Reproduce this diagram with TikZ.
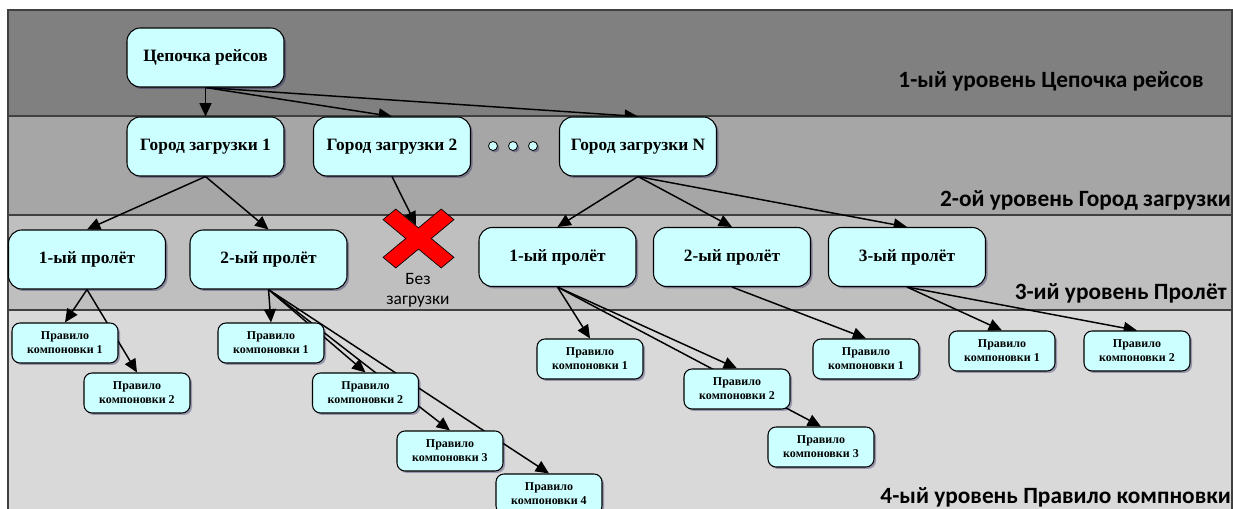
\documentclass[tikz,border=0pt]{standalone}
\usepackage{fontspec}
\setmainfont{Liberation Serif}
\newfontfamily\bandfont{Carlito}
\usetikzlibrary{arrows.meta,shadows}
\definecolor{boxcyan}{HTML}{CCFFFF}
\definecolor{bandA}{HTML}{808080}
\definecolor{bandB}{HTML}{A6A6A6}
\definecolor{bandC}{HTML}{BFBFBF}
\definecolor{bandD}{HTML}{D9D9D9}
\pgfdeclarelayer{bands}
\pgfdeclarelayer{edges}
\pgfsetlayers{bands,edges,main}

\begin{document}
\begin{tikzpicture}[
    x=0.75pt, y=-0.75pt,
    boxnode/.style={draw, line width=0.8pt, fill=boxcyan, align=center,
      drop shadow={shadow xshift=1.5pt, shadow yshift=-1.5pt, fill=black!70!blue, opacity=0.3}},
    bigbox/.style={boxnode, rounded corners=10pt, minimum width=117.75pt, minimum height=44.25pt,
      font=\bfseries\fontsize{13}{15}\selectfont},
    rulebox/.style={boxnode, rounded corners=6pt, minimum width=79.5pt, minimum height=30pt,
      inner sep=1pt, font=\bfseries\fontsize{9}{10.5}\selectfont},
    dotnode/.style={boxnode, circle, minimum size=6.75pt, inner sep=0pt, line width=0.6pt},
    link/.style={-{Triangle[length=10pt,width=9pt]}, line width=1.1pt},
    banner/.style={anchor=base east, inner sep=0pt, font=\bandfont\bfseries\fontsize{17.5}{20}\selectfont},
    band/.style={draw=black!75, line width=0.8pt}
  ]
  \useasboundingbox (0,0) rectangle (1233,509);

  \begin{pgfonlayer}{bands}
    \draw[band, fill=bandA] (8,10) rectangle (1232,116);
    \draw[band, fill=bandB] (8,116) rectangle (1232,215);
    \draw[band, fill=bandC] (8,215) rectangle (1232,310);
    \draw[band, fill=bandD] (8,310) rectangle (1232,515);
    \draw[fill=red, line width=0.5pt, shift={(418.5,238.5)}, x=26.6pt, y=-22.1pt]
      (-1,0.64) -- (-0.64,1) -- (0,0.36) -- (0.64,1) -- (1,0.64) -- (0.36,0)
      -- (1,-0.64) -- (0.64,-1) -- (0,-0.36) -- (-0.64,-1) -- (-1,-0.64) -- (-0.36,0) -- cycle;
  \end{pgfonlayer}

  \node[bigbox] (chain) at (205.5,57.5) {Цепочка рейсов};
  \node[bigbox] (city1) at (205.5,146.5) {Город загрузки 1};
  \node[bigbox] (city2) at (392,146.5) {Город загрузки 2};
  \node[bigbox] (cityN) at (638,146.5) {Город загрузки N};
  \node[dotnode] (dot1) at (493,146) {};
  \node[dotnode] (dot2) at (513,146) {};
  \node[dotnode] (dot3) at (533,146) {};

  \node[bigbox] (span11) at (87,259.5) {1-ый пролёт};
  \node[bigbox] (span12) at (268.5,259.5) {2-ый пролёт};
  \node[bigbox] (spanN1) at (557.5,257) {1-ый пролёт};
  \node[bigbox] (spanN2) at (732,257) {2-ый пролёт};
  \node[bigbox] (spanN3) at (907,257) {3-ый пролёт};
  \coordinate (nocargo) at (416,225);
  \node[font=\bandfont\fontsize{13}{15.5}\selectfont, align=center] (nocargotext) at (418,290.5) {Без\\загрузки};

  \node[rulebox] (rule111) at (65,343) {Правило\\компоновки 1};
  \node[rulebox] (rule112) at (137,393) {Правило\\компоновки 2};
  \node[rulebox] (rule121) at (271,343) {Правило\\компоновки 1};
  \node[rulebox] (rule122) at (365.5,393) {Правило\\компоновки 2};
  \node[rulebox] (rule123) at (450,451) {Правило\\компоновки 3};
  \node[rulebox] (rule124) at (549,494) {Правило\\компоновки 4};
  \node[rulebox] (ruleN11) at (590,359) {Правило\\компоновки 1};
  \node[rulebox] (ruleN12) at (737,389) {Правило\\компоновки 2};
  \node[rulebox] (ruleN13) at (821,447) {Правило\\компоновки 3};
  \node[rulebox] (ruleN21) at (866,359) {Правило\\компоновки 1};
  \node[rulebox] (ruleN31) at (1002,351) {Правило\\компоновки 1};
  \node[rulebox] (ruleN32) at (1137,351) {Правило\\компоновки 2};

  \begin{pgfonlayer}{edges}
    \draw[link] (chain.south) -- (city1.north);
    \draw[link] (chain.south) -- (city2.north);
    \draw[link] (chain.south) -- (cityN.north);
    \draw[link] (city1.south) -- (span11.north);
    \draw[link] (city1.south) -- (span12.north);
    \draw[link] (city2.south) -- (nocargo);
    \draw[link] (cityN.south) -- (spanN1.north);
    \draw[link] (cityN.south) -- (spanN2.north);
    \draw[link] (cityN.south) -- (spanN3.north);
    \draw[link] (span11.south) -- (rule111.north);
    \draw[link] (span11.south) -- (rule112.north);
    \draw[link] (span12.south) -- (rule121.north);
    \draw[link] (span12.south) -- (rule122.north);
    \draw[link] (span12.south) -- (rule123.north);
    \draw[link] (span12.south) -- (rule124.north);
    \draw[link] (spanN1.south) -- (ruleN11.north);
    \draw[link] (spanN1.south) -- (ruleN12.north);
    \draw[link] (spanN1.south) -- (ruleN13.north);
    \draw[link] (spanN2.south) -- (ruleN21.north);
    \draw[link] (spanN3.south) -- (ruleN31.north);
    \draw[link] (spanN3.south) -- (ruleN32.north);
  \end{pgfonlayer}

  \node[banner] (level1) at (1204,87.3) {1-ый уровень Цепочка рейсов};
  \node[banner] (level2) at (1231,206.7) {2-ой уровень Город загрузки};
  \node[banner] (level3) at (1227,299.3) {3-ий уровень Пролёт};
  \node[banner] (level4) at (1231,503.3) {4-ый уровень Правило компновки};
\end{tikzpicture}
\end{document}
